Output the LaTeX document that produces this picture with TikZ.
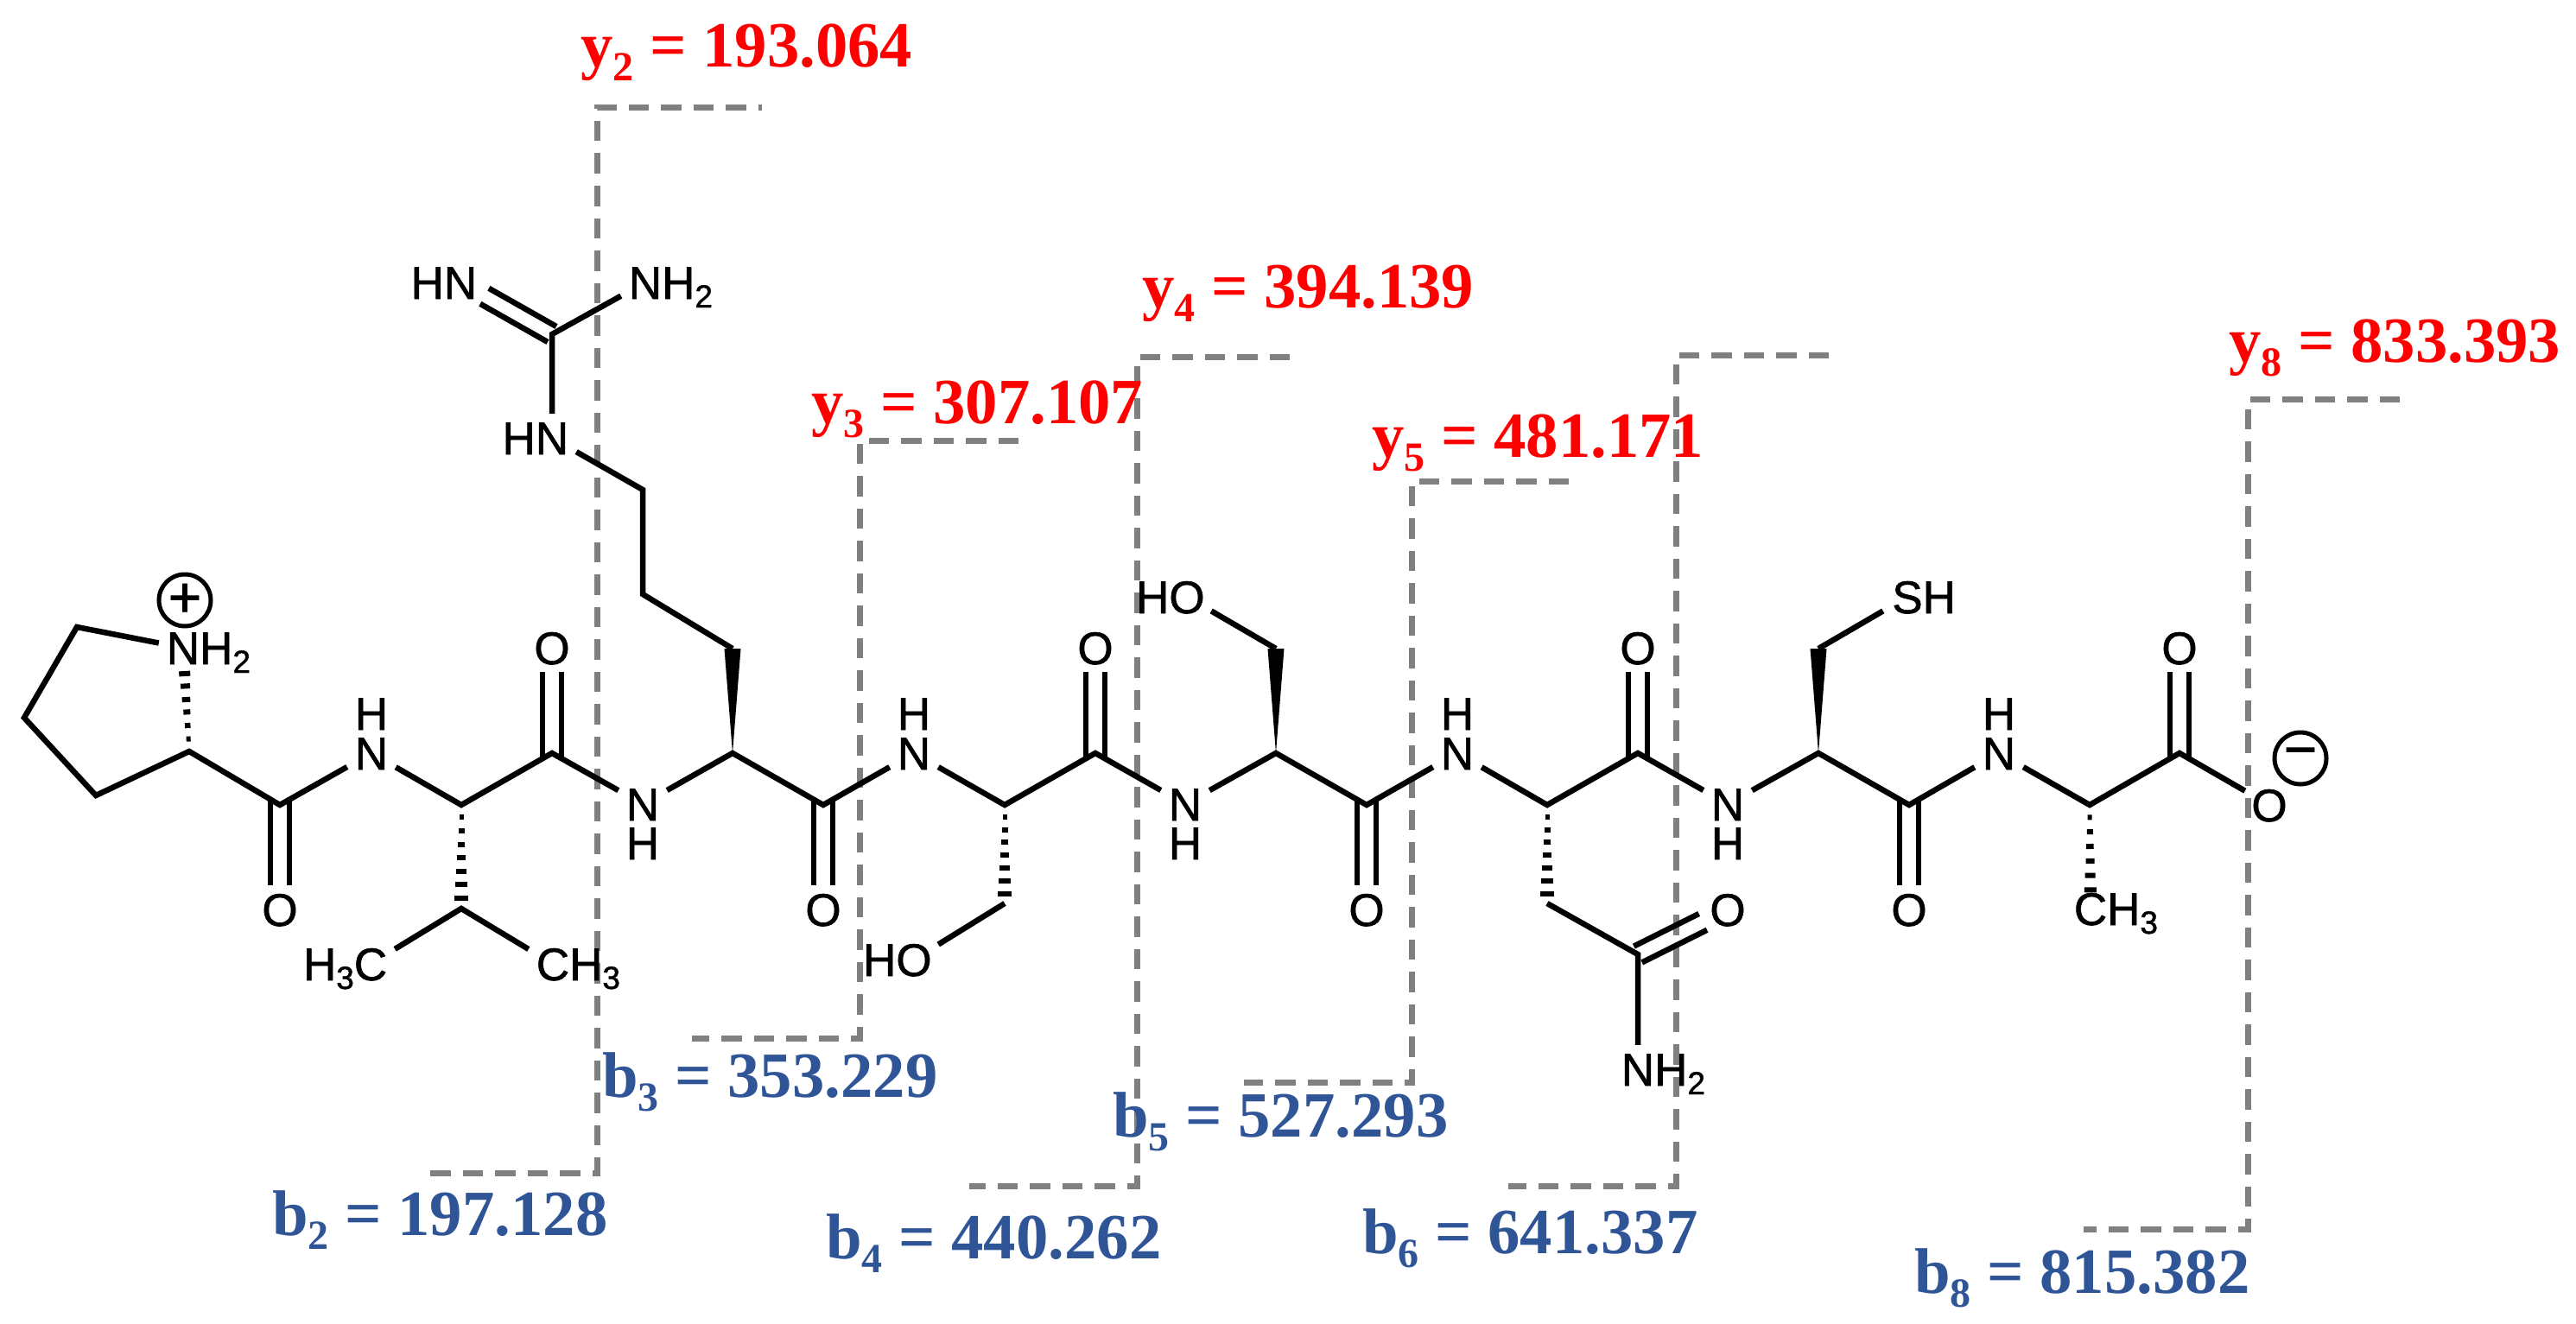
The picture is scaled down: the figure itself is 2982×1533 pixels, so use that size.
\documentclass[tikz,border=0pt]{standalone}
\usepackage{fontspec}
\usetikzlibrary{calc}
\newfontfamily\arialf{Liberation Sans}[FakeBold=1.2]
\newfontfamily\timesf{Liberation Serif}[BoldFont={Liberation Serif Bold}]
\newcommand\atomfs{\arialf\fontsize{53}{60}\selectfont}
\newcommand\labfs{\timesf\bfseries\fontsize{74.7}{80}\selectfont}
\newcommand\asub[1]{\smash{\raisebox{-10pt}{\fontsize{37}{40}\selectfont #1}}}
\newcommand\lsub[1]{\smash{\raisebox{-16pt}{\fontsize{48}{50}\selectfont #1}}}
\definecolor{ionred}{HTML}{FF0000}
\definecolor{ionblue}{HTML}{2F5597}
\definecolor{cutgrey}{HTML}{808080}
\tikzset{
  atom/.style={font=\atomfs,inner sep=0pt,minimum size=56pt,text height=38pt,text depth=0pt},
  bond/.style={draw=black,line width=6.5pt,line join=miter,miter limit=10},
  cut/.style={draw=cutgrey,line width=7pt,dash pattern=on 23.5pt off 14pt},
  ylab/.style={font=\labfs,text=ionred,anchor=base west,inner sep=0pt},
  blab/.style={font=\labfs,text=ionblue,anchor=base west,inner sep=0pt},
  chg/.style={circle,draw=black,line width=5pt,minimum size=60pt,inner sep=0pt,font=\arialf\fontsize{66}{70}\selectfont}
}
\newcommand\dbup[2]{\draw[bond] ([shift={(-11,6)}]#1) -- ([xshift=-11pt]#2.south); \draw[bond] ([shift={(11,6)}]#1) -- ([xshift=11pt]#2.south);}
\newcommand\dbdown[2]{\draw[bond] ([shift={(-11,-6)}]#1) -- ([xshift=-11pt]#2.north); \draw[bond] ([shift={(11,-6)}]#1) -- ([xshift=11pt]#2.north);}
\newcommand\hashb[3]{\foreach \t/\w in {#3}{\draw[black,line width=6pt] ($(#1)!\t!(#2)!\w pt!90:(#2)$) -- ($(#1)!\t!(#2)!\w pt!-90:(#2)$);}}
\newcommand\wedgeb[2]{\fill[black] (#1) -- ($(#2)!9.5pt!90:(#1)$) -- ($(#2)!9.5pt!-90:(#1)$) -- cycle;}
\begin{document}
\begin{tikzpicture}[x=1pt,y=-1pt]
\useasboundingbox (0,0) rectangle (2982,1533);
% fragmentation brackets
\coordinate (y2r) at (882,125); \coordinate (y2c) at (691,125); \coordinate (b2c) at (691,1358); \coordinate (b2l) at (498,1358);
\coordinate (y3r) at (1179,510); \coordinate (y3c) at (995,510); \coordinate (b3c) at (995,1202); \coordinate (b3l) at (801,1202);
\coordinate (y4r) at (1493,413); \coordinate (y4c) at (1316,413); \coordinate (b4c) at (1316,1373); \coordinate (b4l) at (1122,1373);
\coordinate (y5r) at (1816,557); \coordinate (y5c) at (1634,557); \coordinate (b5c) at (1634,1253); \coordinate (b5l) at (1440,1253);
\coordinate (y6r) at (2117,411); \coordinate (y6c) at (1940,411); \coordinate (b6c) at (1940,1373); \coordinate (b6l) at (1746,1373);
\coordinate (y8r) at (2778,462); \coordinate (y8c) at (2602,462); \coordinate (b8c) at (2602,1423); \coordinate (b8l) at (2412,1423);
\draw[cut] (b2l) -- (b2c) -- (y2c) -- (y2r);
\draw[cut] (y3r) -- (y3c) -- (b3c) -- (b3l);
\draw[cut] (y4r) -- (y4c) -- (b4c) -- (b4l);
\draw[cut] (y5r) -- (y5c) -- (b5c) -- (b5l);
\draw[cut] (y6r) -- (y6c) -- (b6c) -- (b6l);
\draw[cut] (y8r) -- (y8c) -- (b8c) -- (b8l);
% labels
\node[ylab] (ly2) at (672,78) {y\lsub{2} = 193.064};
\node[ylab] (ly3) at (939,490) {y\lsub{3} = 307.107};
\node[ylab] (ly4) at (1322,356) {y\lsub{4} = 394.139};
\node[ylab] (ly5) at (1588,529) {y\lsub{5} = 481.171};
\node[ylab] (ly8) at (2580,419) {y\lsub{8} = 833.393};
\node[blab] (lb2) at (315,1430) {b\lsub{2} = 197.128};
\node[blab] (lb3) at (697,1270) {b\lsub{3} = 353.229};
\node[blab] (lb4) at (956,1457) {b\lsub{4} = 440.262};
\node[blab] (lb5) at (1288,1316) {b\lsub{5} = 527.293};
\node[blab] (lb6) at (1577,1451) {b\lsub{6} = 641.337};
\node[blab] (lb8) at (2216,1497) {b\lsub{8} = 815.382};
% carbon vertices
\coordinate (r1) at (111,921); \coordinate (r2) at (28,831); \coordinate (r3) at (89,726);
\coordinate (k0) at (219,870);
\coordinate (c1) at (324,932); \coordinate (a2) at (534,932); \coordinate (c3) at (639,872);
\coordinate (a5) at (848,872); \coordinate (c6) at (953,932); \coordinate (a8) at (1163,932);
\coordinate (c9) at (1268,872); \coordinate (a11) at (1477,872); \coordinate (c12) at (1582,932);
\coordinate (a14) at (1791,932); \coordinate (c15) at (1896,872); \coordinate (a17) at (2105,872);
\coordinate (c18) at (2210,932); \coordinate (a20) at (2419,932); \coordinate (c21) at (2523,872);
\coordinate (vb) at (534,1052);
\coordinate (s1) at (848,751); \coordinate (s2) at (744,688); \coordinate (s3) at (744,567);
\coordinate (gc) at (639,387);
\coordinate (t1) at (1163,1046); \coordinate (e1) at (1477,751);
\coordinate (d1) at (1791,1046); \coordinate (d2) at (1896,1105); \coordinate (m1) at (2105,751);
% heteroatoms
\node[atom] (npro) at (212,750) {N\rlap{H\asub{2}}};
\node[chg] (plus) at (214,695) {+};
\node[atom] (o1) at (324,1053) {O};
\node[atom] (n2) at (430,872) {N}; \node[atom] (h2) at (430,826) {H};
\node[atom] (ch3l) at (429,1116) {\llap{H\asub{3}}C};
\node[atom] (ch3r) at (640,1116) {C\rlap{H\asub{3}}};
\node[atom] (o3) at (639,750) {O};
\node[atom] (n4) at (744,931) {N}; \node[atom] (h4) at (744,976) {H};
\node[atom] (ng) at (639,507) {\llap{H}N};
\node[atom] (ng1) at (533,327) {\llap{H}N};
\node[atom] (ng2) at (747,327) {N\rlap{H\asub{2}}};
\node[atom] (o6) at (953,1053) {O};
\node[atom] (n7) at (1058,872) {N}; \node[atom] (h7) at (1058,826) {H};
\node[atom] (oh1) at (1058,1111) {\llap{H}O};
\node[atom] (o9) at (1268,750) {O};
\node[atom] (n10) at (1372,931) {N}; \node[atom] (h10) at (1372,976) {H};
\node[atom] (oh2) at (1374,691) {\llap{H}O};
\node[atom] (o12) at (1582,1053) {O};
\node[atom] (n13) at (1687,872) {N}; \node[atom] (h13) at (1687,826) {H};
\node[atom] (od) at (2000,1053) {O};
\node[atom] (nd) at (1896,1238) {N\rlap{H\asub{2}}};
\node[atom] (o15) at (1896,750) {O};
\node[atom] (n16) at (2000,931) {N}; \node[atom] (h16) at (2000,976) {H};
\node[atom] (sh) at (2208,691) {S\rlap{H}};
\node[atom] (o18) at (2210,1053) {O};
\node[atom] (n19) at (2314,872) {N}; \node[atom] (h19) at (2314,826) {H};
\node[atom] (ch3a) at (2420,1052) {C\rlap{H\asub{3}}};
\node[atom] (o21) at (2523,750) {O};
\node[atom] (o22) at (2627,932) {O};
\node[chg] (minus) at (2663,878) {−};
% bonds
\draw[bond] (npro) -- (r3) -- (r2) -- (r1) -- (k0) -- (c1) -- (n2) -- (a2) -- (c3) -- (n4) -- (a5) -- (c6) -- (n7) -- (a8) -- (c9) -- (n10) -- (a11) -- (c12) -- (n13) -- (a14) -- (c15) -- (n16) -- (a17) -- (c18) -- (n19) -- (a20) -- (c21) -- (o22);
\draw[bond] (ch3l) -- (vb) -- (ch3r);
\draw[bond] (s1) -- (s2) -- (s3) -- (ng);
\draw[bond] (ng) -- (gc) -- (ng2);
\draw[bond,shorten >=32pt] ([shift={(5,-9)}]gc) -- ([shift={(5,-9)}]ng1.center);
\draw[bond,shorten >=32pt] ([shift={(-5,9)}]gc) -- ([shift={(-5,9)}]ng1.center);
\draw[bond] (t1) -- (oh1);
\draw[bond] (e1) -- (oh2);
\draw[bond] (m1) -- (sh);
\draw[bond] (d1) -- (d2) -- (nd);
\draw[bond,shorten >=32pt] ([shift={(-4.7,-9.4)}]d2) -- ([shift={(-4.7,-9.4)}]od.center);
\draw[bond,shorten >=32pt] ([shift={(4.7,9.4)}]d2) -- ([shift={(4.7,9.4)}]od.center);
\dbdown{c1}{o1} \dbup{c3}{o3} \dbdown{c6}{o6} \dbup{c9}{o9} \dbdown{c12}{o12} \dbup{c15}{o15} \dbdown{c18}{o18} \dbup{c21}{o21}
\hashb{k0}{npro}{0.12/2.5,0.25/3.2,0.38/4,0.5/4.8,0.63/5.5,0.75/6.5}
\hashb{a2}{vb}{0.12/2.5,0.25/3.5,0.38/4.3,0.51/5,0.64/6,0.77/6.8,0.9/7.8}
\hashb{a8}{t1}{0.12/2.5,0.25/3.5,0.38/4.3,0.51/5,0.64/6,0.77/6.8,0.9/7.8}
\hashb{a14}{d1}{0.12/2.5,0.25/3.5,0.38/4.3,0.51/5,0.64/6,0.77/6.8,0.9/7.8}
\hashb{a20}{ch3a}{0.12/2.5,0.26/3.5,0.4/4.3,0.54/5,0.68/6,0.82/7}
\wedgeb{a5}{s1} \wedgeb{a11}{e1} \wedgeb{a17}{m1}
\end{tikzpicture}
\end{document}
